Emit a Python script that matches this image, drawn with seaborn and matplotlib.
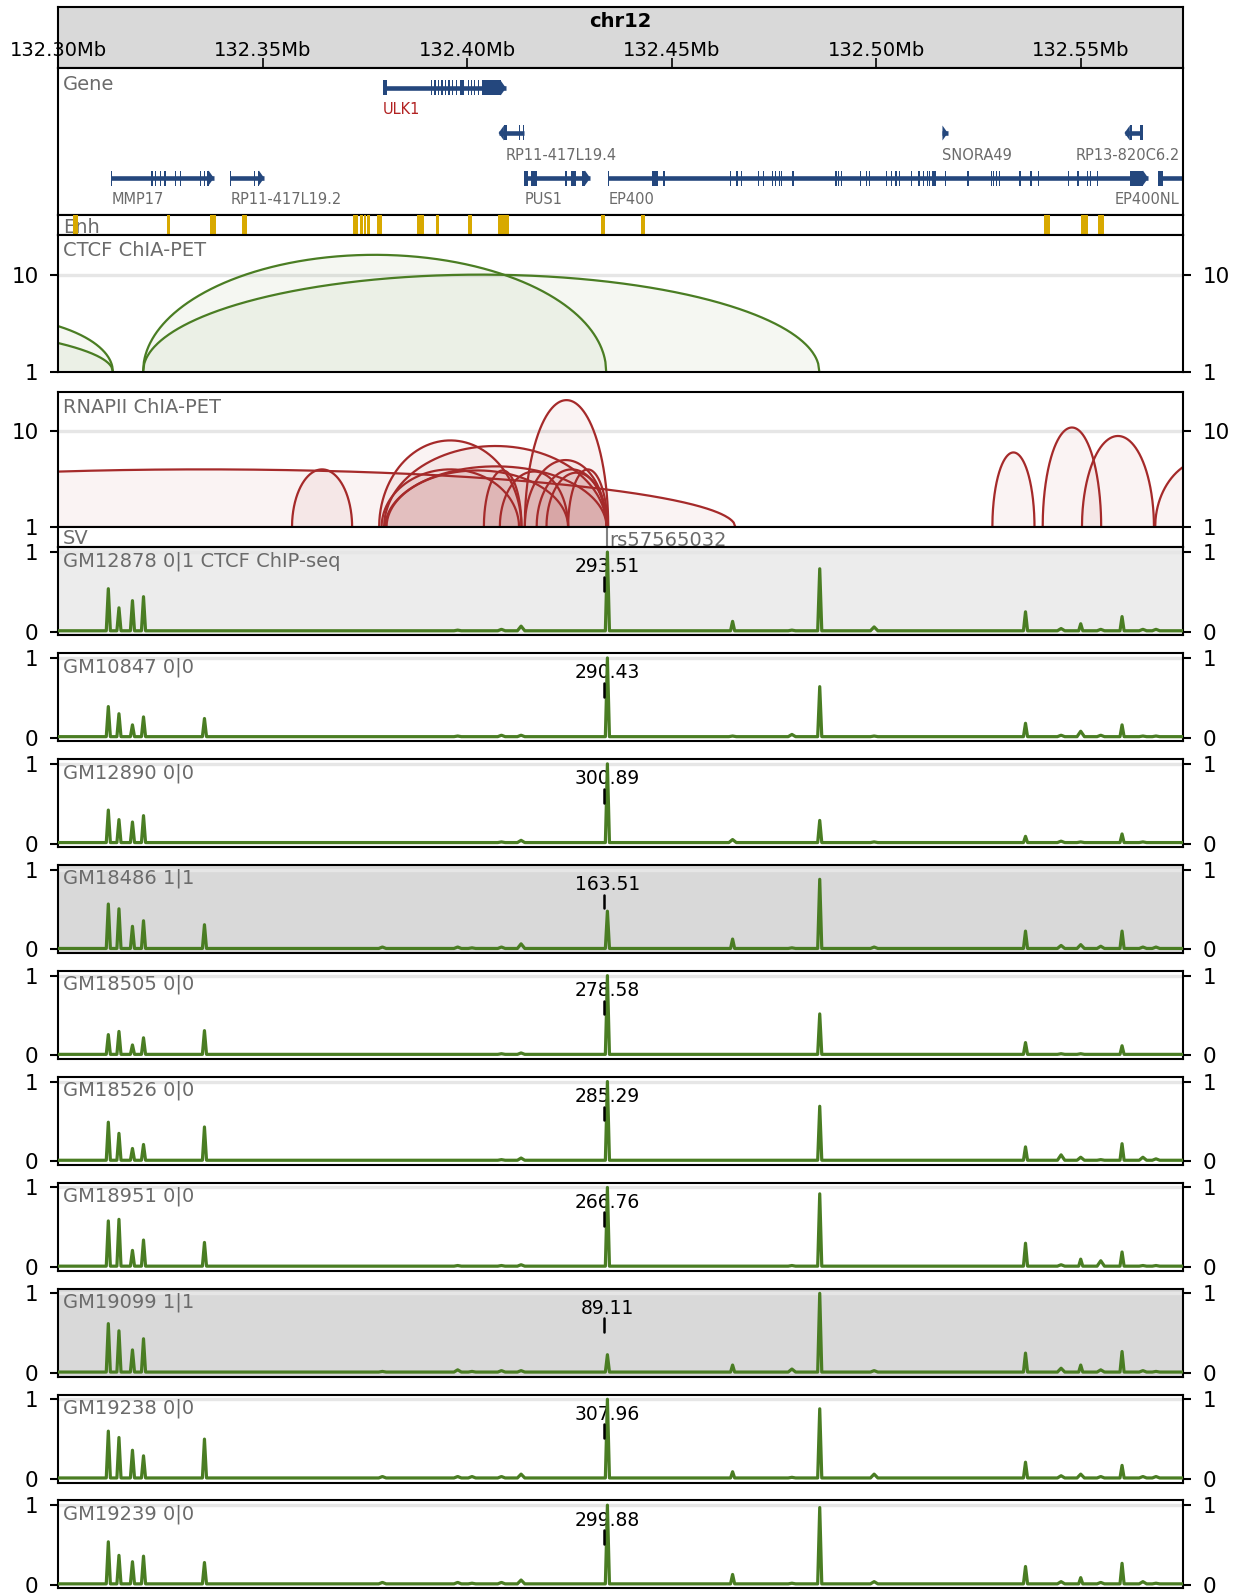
import numpy as np
import matplotlib
matplotlib.use("Agg")
import matplotlib.pyplot as plt
import matplotlib.transforms as mtransforms
from matplotlib.patches import Polygon, Rectangle
from matplotlib.ticker import NullLocator
import seaborn as sns
import pandas as pd

# ---------------- data ----------------
CHROM = "chr12"
XMIN, XMAX = 132.300, 132.575
tick_pos = [132.30, 132.35, 132.40, 132.45, 132.50, 132.55]
tick_labels = ["132.30Mb", "132.35Mb", "132.40Mb", "132.45Mb", "132.50Mb", "132.55Mb"]

gene_names = ["ULK1", "RP11-417L19.4", "SNORA49", "RP13-820C6.2", "MMP17",
              "RP11-417L19.2", "PUS1", "EP400", "EP400NL"]
gene_rows = [0, 1, 1, 1, 2, 2, 2, 2, 2]
gene_strand = ["+", "-", "+", "-", "+", "+", "+", "+", "+"]
gene_start = [132.3795, 132.4077, 132.5160, 132.5607, 132.3130, 132.3421, 132.4140, 132.4345, 132.5690]
gene_end = [132.4095, 132.4139, 132.5175, 132.5650, 132.3381, 132.3504, 132.4301, 132.5665, 132.6000]
gene_label_pos = [132.3795, 132.4093, 132.5160, 132.5607, 132.3130, 132.3421, 132.4140, 132.4345, 132.5690]
gene_highlight = ["ULK1"]
gene_exons = [
    [(132.3795, 132.3803), (132.3912, 132.3914), (132.3920, 132.3922), (132.3929, 132.3931),
     (132.3937, 132.3939), (132.3945, 132.3947), (132.3954, 132.3956), (132.3962, 132.3964),
     (132.3972, 132.3974), (132.3982, 132.3992), (132.4002, 132.4004), (132.4009, 132.4011),
     (132.4017, 132.4019), (132.4027, 132.4029), (132.4037, 132.4095)],
    [(132.4077, 132.4097), (132.4126, 132.4128), (132.4137, 132.4139)],
    [(132.5160, 132.5175)],
    [(132.5607, 132.5625), (132.5644, 132.5646), (132.5648, 132.5650)],
    [(132.3130, 132.3132), (132.3228, 132.3231), (132.3236, 132.3239), (132.3250, 132.3253),
     (132.3260, 132.3263), (132.3286, 132.3289), (132.3298, 132.3301), (132.3346, 132.3349),
     (132.3356, 132.3358), (132.3364, 132.3381)],
    [(132.3421, 132.3423), (132.3478, 132.3480), (132.3488, 132.3504)],
    [(132.4140, 132.4149), (132.4157, 132.4172), (132.4240, 132.4243), (132.4254, 132.4266),
     (132.4281, 132.4301)],
    [(132.4345, 132.4347), (132.4453, 132.4467), (132.4480, 132.4482), (132.4643, 132.4645),
     (132.4658, 132.4660), (132.4669, 132.4671), (132.4710, 132.4712), (132.4723, 132.4725),
     (132.4745, 132.4747), (132.4753, 132.4755), (132.4762, 132.4764), (132.4767, 132.4769),
     (132.4795, 132.4797), (132.4900, 132.4902), (132.4907, 132.4909), (132.4913, 132.4915),
     (132.4961, 132.4963), (132.4975, 132.4977), (132.4983, 132.4985), (132.5023, 132.5025),
     (132.5035, 132.5037), (132.5047, 132.5049), (132.5055, 132.5057), (132.5085, 132.5087),
     (132.5103, 132.5105), (132.5115, 132.5117), (132.5123, 132.5125), (132.5128, 132.5130),
     (132.5137, 132.5147), (132.5168, 132.5170), (132.5223, 132.5225), (132.5280, 132.5282),
     (132.5285, 132.5287), (132.5292, 132.5294), (132.5300, 132.5302), (132.5350, 132.5355),
     (132.5375, 132.5380), (132.5395, 132.5397), (132.5468, 132.5470), (132.5492, 132.5494),
     (132.5515, 132.5517), (132.5522, 132.5524), (132.5540, 132.5542), (132.5620, 132.5665)],
    [(132.5690, 132.5700), (132.5950, 132.6000)],
]

enh_start = [132.3036, 132.3267, 132.3371, 132.3449, 132.3720, 132.3738, 132.3748, 132.3756, 132.3780,
             132.3877, 132.3923, 132.4001, 132.4075, 132.4328, 132.4425, 132.5410, 132.5501, 132.5543]
enh_end = [132.3048, 132.3274, 132.3386, 132.3461, 132.3733, 132.3746, 132.3754, 132.3763, 132.3792,
           132.3895, 132.3931, 132.4011, 132.4103, 132.4336, 132.4435, 132.5425, 132.5517, 132.5557]

ctcf_start = [132.2464, 132.1347, 132.3208, 132.3208]
ctcf_end = [132.3134, 132.3134, 132.4340, 132.4861]
ctcf_count = [3.86, 3.63, 16.0, 10.0]

rnap_start = [132.2056, 132.3572, 132.3785, 132.3797, 132.3791, 132.3800, 132.3803, 132.4041, 132.4080,
              132.4141, 132.4141, 132.4170, 132.4194, 132.4247, 132.5284, 132.5407, 132.5503, 132.5682]
rnap_end = [132.4656, 132.3719, 132.4133, 132.4341, 132.4127, 132.4341, 132.4247, 132.4133, 132.4247,
            132.4345, 132.4341, 132.4341, 132.4341, 132.4343, 132.5387, 132.5550, 132.5679, 132.5946]
rnap_count = [4.0, 4.0, 8.0, 7.0, 4.0, 4.3, 3.9, 3.9, 3.8, 21.0, 5.0, 4.0, 3.7, 4.0, 6.0, 10.9, 8.9, 5.2]

SNP_NAME = "rs57565032"
SNP_POS = 132.4343

peak_pos = [132.3123, 132.3149, 132.3182, 132.3209, 132.3358, 132.3793, 132.3977, 132.4012,
            132.4084, 132.4132, 132.4343, 132.4649, 132.4794, 132.4862, 132.4995, 132.5365,
            132.5452, 132.5500, 132.5549, 132.5601, 132.5652, 132.5684]
baseline_level = 0.012

samples = ["GM12878", "GM10847", "GM12890", "GM18486", "GM18505",
           "GM18526", "GM18951", "GM19099", "GM19238", "GM19239"]
genotypes = ["0|1", "0|0", "0|0", "1|1", "0|0", "0|0", "0|0", "1|1", "0|0", "0|0"]
sample_suffix = [" CTCF ChIP-seq", "", "", "", "", "", "", "", "", ""]
snp_values = ["293.51", "290.43", "300.89", "163.51", "278.58",
              "285.29", "266.76", "89.11", "307.96", "299.88"]
peak_heights = [
    [0.54, 0.30, 0.39, 0.44, 0.00, 0.01, 0.02, 0.01, 0.03, 0.07, 1.00, 0.13, 0.02, 0.79, 0.06, 0.25, 0.04, 0.10, 0.03, 0.19, 0.03, 0.03],
    [0.39, 0.30, 0.16, 0.26, 0.24, 0.01, 0.02, 0.01, 0.03, 0.03, 1.00, 0.02, 0.04, 0.64, 0.02, 0.18, 0.03, 0.08, 0.03, 0.16, 0.02, 0.02],
    [0.42, 0.30, 0.27, 0.35, 0.01, 0.01, 0.01, 0.01, 0.02, 0.04, 1.00, 0.05, 0.01, 0.29, 0.02, 0.09, 0.03, 0.02, 0.01, 0.12, 0.02, 0.01],
    [0.57, 0.51, 0.29, 0.36, 0.31, 0.03, 0.03, 0.02, 0.03, 0.07, 0.48, 0.13, 0.02, 0.88, 0.03, 0.23, 0.05, 0.06, 0.04, 0.23, 0.03, 0.03],
    [0.26, 0.30, 0.13, 0.22, 0.31, 0.01, 0.01, 0.01, 0.02, 0.03, 1.00, 0.01, 0.01, 0.52, 0.01, 0.16, 0.02, 0.02, 0.01, 0.12, 0.01, 0.01],
    [0.49, 0.35, 0.16, 0.21, 0.43, 0.01, 0.01, 0.01, 0.02, 0.04, 1.00, 0.01, 0.01, 0.69, 0.01, 0.18, 0.08, 0.05, 0.02, 0.22, 0.05, 0.03],
    [0.58, 0.60, 0.21, 0.34, 0.31, 0.01, 0.02, 0.01, 0.02, 0.03, 1.00, 0.01, 0.02, 0.92, 0.01, 0.30, 0.03, 0.10, 0.08, 0.19, 0.02, 0.02],
    [0.62, 0.53, 0.29, 0.43, 0.00, 0.02, 0.04, 0.02, 0.03, 0.03, 0.23, 0.10, 0.05, 1.00, 0.03, 0.25, 0.06, 0.10, 0.04, 0.27, 0.03, 0.02],
    [0.60, 0.52, 0.36, 0.29, 0.50, 0.03, 0.03, 0.03, 0.03, 0.06, 1.00, 0.09, 0.02, 0.88, 0.06, 0.21, 0.04, 0.06, 0.03, 0.17, 0.03, 0.03],
    [0.54, 0.37, 0.29, 0.36, 0.28, 0.03, 0.03, 0.02, 0.03, 0.06, 1.00, 0.13, 0.02, 0.97, 0.04, 0.23, 0.04, 0.09, 0.03, 0.27, 0.04, 0.02],
]

# ---------------- style ----------------
sns.set_style("white")
plt.rcParams.update({
    "axes.linewidth": 1.5,
    "axes.edgecolor": "black",
    "xtick.color": "black",
    "ytick.color": "black",
    "text.color": "black",
    "axes.labelcolor": "black",
})
plt.rcParams["font.family"] = ["DejaVu Sans"]

GENE_COLOR = "#24477d"
LABEL_GRAY = "#6b6b6b"
HILITE = "#b22222"
ENH_COLOR = "#d8a900"
GREEN = "#4a7d23"
RED = "#a52a2a"
BG = {"0|0": "white", "0|1": "#ececec", "1|1": "#d9d9d9"}
GRID = "#e6e6e6"

W, H = 1242, 1596
fig = plt.figure(figsize=(W / 100, H / 100), dpi=100)
LEFT, RIGHT = 58, 1183


def add_ax(top, bottom):
    ax = fig.add_axes([LEFT / W, 1 - bottom / H, (RIGHT - LEFT) / W, (bottom - top) / H])
    ax.set_xlim(XMIN, XMAX)
    ax.tick_params(axis="x", bottom=False, labelbottom=False)
    for sp in ax.spines.values():
        sp.set_visible(True)
        sp.set_color("black")
        sp.set_linewidth(1.5)
    return ax


def track_label(ax, text, dy=4):
    tr = mtransforms.offset_copy(ax.transAxes, fig=fig, x=5, y=-dy, units="dots")
    ax.text(0, 1, text, transform=tr, ha="left", va="top", fontsize=14, color=LABEL_GRAY, zorder=5)


def yticks_both(ax, ticks, labels):
    ax.set_yticks(ticks)
    ax.set_yticklabels(labels)
    ax.yaxis.set_minor_locator(NullLocator())
    ax.tick_params(axis="y", which="both", left=True, right=True, labelleft=True, labelright=True,
                   direction="out", length=6, width=1.5, labelsize=15.5, pad=8)


# ---------------- header ----------------
axh = add_ax(7, 68.2)
axh.set_facecolor("#d9d9d9")
axh.set_ylim(0, 1)
axh.set_yticks([])
axh.set_xticks(tick_pos)
axh.tick_params(axis="x", bottom=True, labelbottom=False, direction="in", length=7, width=1.2)
for p, l in zip(tick_pos, tick_labels):
    axh.text(p, 0.29, l, ha="center", va="center", fontsize=14, clip_on=False)
axh.text(0.5, 0.76, CHROM, transform=axh.transAxes, ha="center", va="center",
         fontsize=14, fontweight="bold")

# ---------------- genes ----------------
axg = add_ax(68.2, 214.8)
axg.set_ylim(146.6, 0)
axg.set_yticks([])
ROW_Y = [19.8, 64.8, 109.8]
EXH = 7.5
TIP = 0.0013
MINW = 0.0003
for i, name in enumerate(gene_names):
    y = ROW_Y[gene_rows[i]]
    s, e = gene_start[i], gene_end[i]
    axg.plot([s, e], [y, y], color=GENE_COLOR, lw=3.3, solid_capstyle="butt", zorder=2)
    ex = gene_exons[i]
    for j, (a, b) in enumerate(ex):
        term = (gene_strand[i] == "+" and j == len(ex) - 1) or (gene_strand[i] == "-" and j == 0)
        if term and gene_strand[i] == "+":
            if b - TIP > a:
                axg.add_patch(Rectangle((a, y - EXH), b - TIP - a, 2 * EXH, color=GENE_COLOR, lw=0, zorder=3))
            t0 = max(a, b - TIP)
            axg.add_patch(Polygon([(t0, y - EXH), (b, y), (t0, y + EXH)], closed=True,
                                  color=GENE_COLOR, lw=0, zorder=3))
        elif term:
            if a + TIP < b:
                axg.add_patch(Rectangle((a + TIP, y - EXH), b - a - TIP, 2 * EXH, color=GENE_COLOR, lw=0, zorder=3))
            t0 = min(b, a + TIP)
            axg.add_patch(Polygon([(t0, y - EXH), (a, y), (t0, y + EXH)], closed=True,
                                  color=GENE_COLOR, lw=0, zorder=3))
        else:
            axg.add_patch(Rectangle((a, y - EXH), max(b - a, MINW), 2 * EXH, color=GENE_COLOR, lw=0, zorder=3))
    col = HILITE if name in gene_highlight else LABEL_GRAY
    lx = gene_label_pos[i]
    if lx + len(name) * 0.0018 > XMAX:
        axg.text(XMAX - 0.0008, y + 22, name, ha="right", va="center", fontsize=10.5, color=col)
    else:
        axg.text(lx, y + 22, name, ha="left", va="center", fontsize=10.5, color=col)
track_label(axg, "Gene", dy=7)

# ---------------- enhancers ----------------
axe = add_ax(214.8, 235.2)
axe.set_ylim(0, 1)
axe.set_yticks([])
for a, b in zip(enh_start, enh_end):
    axe.axvspan(a, b, color=ENH_COLOR, lw=0, zorder=3)
axe.text(0, 0.40, "Enh", transform=mtransforms.offset_copy(axe.transAxes, fig=fig, x=5, y=0, units="dots"),
         ha="left", va="center", fontsize=14, color=LABEL_GRAY, zorder=2)


# ---------------- ChIA-PET arcs ----------------
def draw_arcs(ax, starts, ends, counts, color):
    for s, e, h in zip(starts, ends, counts):
        x = np.linspace(s, e, 600)
        c, r = (s + e) / 2, (e - s) / 2
        u = np.clip(1 - ((x - c) / r) ** 2, 0, None)
        y = h ** np.sqrt(u)
        ax.fill_between(x, 1, y, color=color, alpha=0.055, lw=0, zorder=1)
        ax.plot(x, y, color=color, lw=1.6, zorder=2)


axc = add_ax(235.2, 371.6)
axc.set_yscale("log")
axc.set_ylim(1, 25.5)
axc.axhline(10, color=GRID, lw=2.4, zorder=0)
draw_arcs(axc, ctcf_start, ctcf_end, ctcf_count, GREEN)
yticks_both(axc, [1, 10], ["1", "10"])
track_label(axc, "CTCF ChIA-PET", dy=6)

axr = add_ax(392, 527.3)
axr.set_yscale("log")
axr.set_ylim(1, 25.5)
axr.axhline(10, color=GRID, lw=2.4, zorder=0)
draw_arcs(axr, rnap_start, rnap_end, rnap_count, RED)
yticks_both(axr, [1, 10], ["1", "10"])
track_label(axr, "RNAPII ChIA-PET", dy=6)

# ---------------- SV ----------------
axs = add_ax(527.3, 547.3)
axs.set_ylim(0, 1)
axs.set_yticks([])
axs.axvline(SNP_POS, color="#808080", lw=1.5)
axs.text(SNP_POS, 0.36, SNP_NAME,
         transform=mtransforms.offset_copy(axs.transData, fig=fig, x=2, y=0, units="dots"),
         ha="left", va="center", fontsize=14, color=LABEL_GRAY)
axs.text(0, 0.43, "SV", transform=mtransforms.offset_copy(axs.transAxes, fig=fig, x=5, y=0, units="dots"),
         ha="left", va="center", fontsize=14, color=LABEL_GRAY)


# ---------------- signal tracks ----------------
def signal_xy(heights):
    xs, ys = [XMIN], [baseline_level]
    for p, h in zip(peak_pos, heights):
        hw = 0.0005 if h > 0.08 else 0.0009
        xs += [p - hw, p, p + hw]
        ys += [baseline_level, max(h, baseline_level), baseline_level]
    xs.append(XMAX)
    ys.append(baseline_level)
    return xs, ys


SIG_TOP0, SIG_STEP, SIG_H = 547.3, 105.9, 88
for k in range(len(samples)):
    top = SIG_TOP0 + k * SIG_STEP
    ax = add_ax(top, top + SIG_H)
    ax.set_facecolor(BG[genotypes[k]])
    ax.axhline(1, color=GRID, lw=2.4, zorder=0)
    xs, ys = signal_xy(peak_heights[k])
    df = pd.DataFrame({"pos": xs, "signal": ys})
    sns.lineplot(data=df, x="pos", y="signal", ax=ax, color=GREEN, lw=2.3,
                 estimator=None, sort=False, zorder=3)
    ax.set_xlabel("")
    ax.set_ylabel("")
    ax.set_xlim(XMIN, XMAX)
    ax.set_ylim(-0.045, 1.06)
    yticks_both(ax, [0, 1], ["0", "1"])
    ax.tick_params(axis="x", bottom=False, labelbottom=False)
    ax.text(SNP_POS, 0.813, snp_values[k], ha="center", va="center", fontsize=13.5, zorder=2)
    ax.plot([SNP_POS - 0.0009] * 2, [0.515, 0.687], color="black", lw=1.8, zorder=4)
    track_label(ax, f"{samples[k]} {genotypes[k]}{sample_suffix[k]}")

fig.savefig("out.png", dpi=100)
